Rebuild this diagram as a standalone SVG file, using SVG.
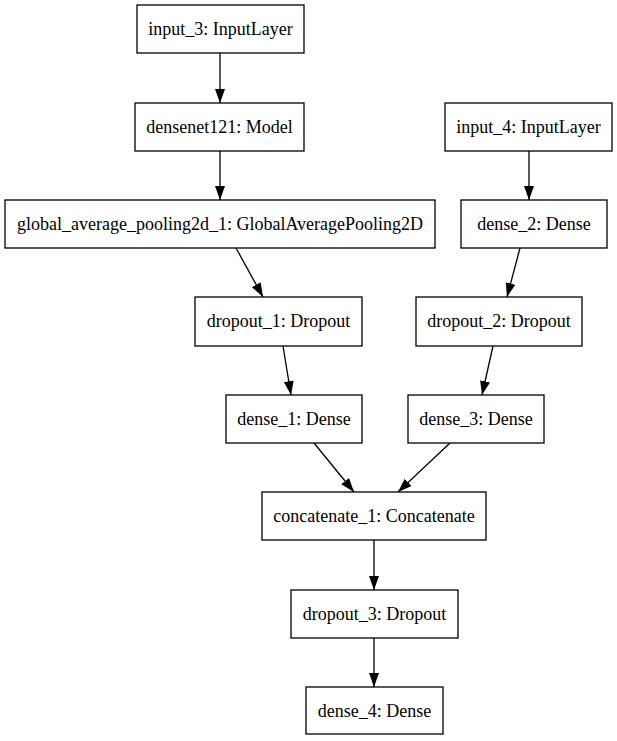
<svg xmlns="http://www.w3.org/2000/svg" width="617" height="741" viewBox="0 0 617 741">
<style>
.n rect{fill:#fff;stroke:#000;stroke-width:1.3}
.n text{font-family:"Liberation Serif","Times New Roman",serif;font-size:18px;text-anchor:middle;fill:#000}
.e line{stroke:#000;stroke-width:1.3;marker-end:url(#ah)}
</style>
<defs>
<marker id="ah" viewBox="0 0 14 10" refX="14" refY="5" markerWidth="14" markerHeight="10" markerUnits="userSpaceOnUse" orient="auto">
<path d="M0,0 L14,5 L0,10 z" fill="#000"/>
</marker>
</defs>
<rect width="617" height="741" fill="#fff"/>
<g class="e" id="edges">
<line x1="220" y1="53" x2="220" y2="103"/>
<line x1="220" y1="151" x2="220" y2="200"/>
<line x1="236" y1="248" x2="263" y2="297"/>
<line x1="529" y1="151" x2="529" y2="200"/>
<line x1="520" y1="248" x2="507" y2="297"/>
<line x1="283" y1="346" x2="291" y2="395"/>
<line x1="493" y1="346" x2="482" y2="395"/>
<line x1="314" y1="443" x2="354" y2="492"/>
<line x1="450" y1="443" x2="398" y2="492"/>
<line x1="374" y1="540" x2="374" y2="590"/>
<line x1="374" y1="638" x2="374" y2="687"/>
</g>
<g class="n" id="input_3"><rect x="137" y="5" width="167" height="48"/><text x="220.5" y="35">input_3: InputLayer</text></g>
<g class="n" id="densenet121"><rect x="135" y="103" width="169" height="48"/><text x="219.5" y="133">densenet121: Model</text></g>
<g class="n" id="global_average_pooling2d_1"><rect x="5" y="200" width="430" height="48"/><text x="220" y="230">global_average_pooling2d_1: GlobalAveragePooling2D</text></g>
<g class="n" id="input_4"><rect x="445" y="103" width="167" height="48"/><text x="528.5" y="133">input_4: InputLayer</text></g>
<g class="n" id="dense_2"><rect x="461" y="200" width="146" height="48"/><text x="534" y="230">dense_2: Dense</text></g>
<g class="n" id="dropout_1"><rect x="195" y="297" width="167" height="49"/><text x="278.5" y="327">dropout_1: Dropout</text></g>
<g class="n" id="dropout_2"><rect x="416" y="297" width="166" height="49"/><text x="499" y="327">dropout_2: Dropout</text></g>
<g class="n" id="dense_1"><rect x="226" y="395" width="136" height="48"/><text x="294" y="425">dense_1: Dense</text></g>
<g class="n" id="dense_3"><rect x="408" y="395" width="136" height="48"/><text x="476" y="425">dense_3: Dense</text></g>
<g class="n" id="concatenate_1"><rect x="262" y="492" width="224" height="48"/><text x="374" y="522">concatenate_1: Concatenate</text></g>
<g class="n" id="dropout_3"><rect x="291" y="590" width="167" height="48"/><text x="374.5" y="620">dropout_3: Dropout</text></g>
<g class="n" id="dense_4"><rect x="306" y="687" width="137" height="47"/><text x="374.5" y="717">dense_4: Dense</text></g>
</svg>
